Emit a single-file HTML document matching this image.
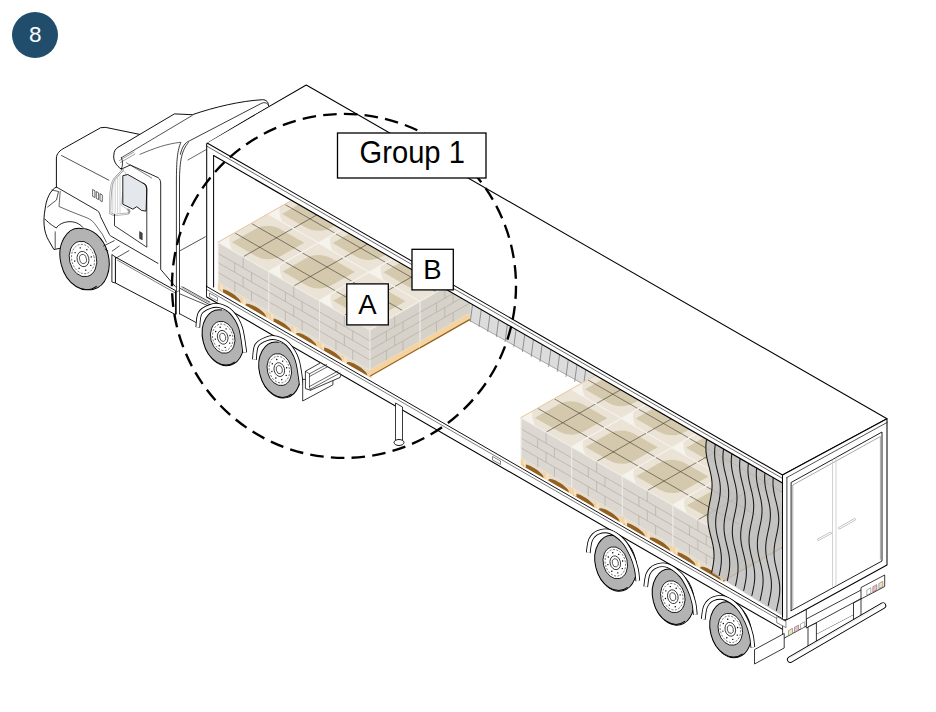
<!DOCTYPE html><html><head><meta charset="utf-8"><style>html,body{margin:0;padding:0;background:#fff;width:936px;height:712px;overflow:hidden}svg{display:block}</style></head><body><svg width="936" height="712" viewBox="0 0 936 712">
<rect width="936" height="712" fill="#fff"/>
<polygon points="468.75,300.5 598,375 583,384 468.75,320" fill="#dcdcdc" stroke="none" stroke-width="0.85" stroke-linejoin="round" />
<line x1="472.5" y1="305" x2="470.3" y2="321.5" stroke="#444" stroke-width="0.51" stroke-linecap="round" />
<line x1="481.2" y1="310" x2="479" y2="326.5" stroke="#444" stroke-width="0.51" stroke-linecap="round" />
<line x1="489.9" y1="315.01" x2="487.7" y2="331.51" stroke="#444" stroke-width="0.51" stroke-linecap="round" />
<line x1="498.6" y1="320.02" x2="496.4" y2="336.52" stroke="#444" stroke-width="0.51" stroke-linecap="round" />
<line x1="507.3" y1="325.02" x2="505.1" y2="341.52" stroke="#444" stroke-width="0.51" stroke-linecap="round" />
<line x1="516" y1="330.03" x2="513.8" y2="346.53" stroke="#444" stroke-width="0.51" stroke-linecap="round" />
<line x1="524.7" y1="335.04" x2="522.5" y2="351.54" stroke="#444" stroke-width="0.51" stroke-linecap="round" />
<line x1="533.4" y1="340.04" x2="531.2" y2="356.54" stroke="#444" stroke-width="0.51" stroke-linecap="round" />
<line x1="542.1" y1="345.05" x2="539.9" y2="361.55" stroke="#444" stroke-width="0.51" stroke-linecap="round" />
<line x1="550.8" y1="350.06" x2="548.6" y2="366.56" stroke="#444" stroke-width="0.51" stroke-linecap="round" />
<line x1="559.5" y1="355.07" x2="557.3" y2="371.57" stroke="#444" stroke-width="0.51" stroke-linecap="round" />
<line x1="568.2" y1="360.07" x2="566" y2="376.57" stroke="#444" stroke-width="0.51" stroke-linecap="round" />
<line x1="576.9" y1="365.08" x2="574.7" y2="381.58" stroke="#444" stroke-width="0.51" stroke-linecap="round" />
<line x1="585.6" y1="370.09" x2="583.4" y2="386.59" stroke="#444" stroke-width="0.51" stroke-linecap="round" />
<line x1="468.75" y1="320" x2="583" y2="384" stroke="#777" stroke-width="0.59" stroke-linecap="round" />
<g transform="matrix(1.01,0.58,1,-0.57,217.9,242.3)">
<rect x="0" y="0" width="50" height="50" fill="#ebe4d6"/>
<path d="M7,7 L30,7 C38,7 43,12 43,20 L43,43 L20,43 C12,43 7,38 7,30 Z" fill="#d5c9ad"/>
<path d="M0,0 L14,0 C10,3 5,5 0,12 Z" fill="#f6f3ec"/>
<line x1="25" y1="0.5" x2="25" y2="49.5" stroke="#4a4236" stroke-width="0.5"/>
<line x1="0.5" y1="16.7" x2="49.5" y2="16.7" stroke="#4a4236" stroke-width="0.5"/>
<line x1="0.5" y1="33.3" x2="49.5" y2="33.3" stroke="#4a4236" stroke-width="0.5"/>
<rect x="0" y="0" width="50" height="50" fill="none" stroke="#f4f2ec" stroke-width="0.9"/>
</g>
<g transform="matrix(1.01,0.58,1,-0.57,268,213.84)">
<rect x="0" y="0" width="50" height="50" fill="#ebe4d6"/>
<path d="M7,7 L30,7 C38,7 43,12 43,20 L43,43 L20,43 C12,43 7,38 7,30 Z" fill="#d5c9ad"/>
<path d="M0,0 L14,0 C10,3 5,5 0,12 Z" fill="#f6f3ec"/>
<line x1="25" y1="0.5" x2="25" y2="49.5" stroke="#4a4236" stroke-width="0.5"/>
<line x1="0.5" y1="16.7" x2="49.5" y2="16.7" stroke="#4a4236" stroke-width="0.5"/>
<line x1="0.5" y1="33.3" x2="49.5" y2="33.3" stroke="#4a4236" stroke-width="0.5"/>
<rect x="0" y="0" width="50" height="50" fill="none" stroke="#f4f2ec" stroke-width="0.9"/>
</g>
<g transform="matrix(1.01,0.58,1,-0.57,268.5,271.5)">
<rect x="0" y="0" width="50" height="50" fill="#ebe4d6"/>
<path d="M7,7 L30,7 C38,7 43,12 43,20 L43,43 L20,43 C12,43 7,38 7,30 Z" fill="#d5c9ad"/>
<path d="M0,0 L14,0 C10,3 5,5 0,12 Z" fill="#f6f3ec"/>
<line x1="25" y1="0.5" x2="25" y2="49.5" stroke="#4a4236" stroke-width="0.5"/>
<line x1="0.5" y1="16.7" x2="49.5" y2="16.7" stroke="#4a4236" stroke-width="0.5"/>
<line x1="0.5" y1="33.3" x2="49.5" y2="33.3" stroke="#4a4236" stroke-width="0.5"/>
<rect x="0" y="0" width="50" height="50" fill="none" stroke="#f4f2ec" stroke-width="0.9"/>
</g>
<g transform="matrix(1.01,0.58,1,-0.57,318.6,243.04)">
<rect x="0" y="0" width="50" height="50" fill="#ebe4d6"/>
<path d="M7,7 L30,7 C38,7 43,12 43,20 L43,43 L20,43 C12,43 7,38 7,30 Z" fill="#d5c9ad"/>
<path d="M0,0 L14,0 C10,3 5,5 0,12 Z" fill="#f6f3ec"/>
<line x1="25" y1="0.5" x2="25" y2="49.5" stroke="#4a4236" stroke-width="0.5"/>
<line x1="0.5" y1="16.7" x2="49.5" y2="16.7" stroke="#4a4236" stroke-width="0.5"/>
<line x1="0.5" y1="33.3" x2="49.5" y2="33.3" stroke="#4a4236" stroke-width="0.5"/>
<rect x="0" y="0" width="50" height="50" fill="none" stroke="#f4f2ec" stroke-width="0.9"/>
</g>
<g transform="matrix(1.01,0.58,1,-0.57,319.1,300.7)">
<rect x="0" y="0" width="50" height="50" fill="#ebe4d6"/>
<path d="M7,7 L30,7 C38,7 43,12 43,20 L43,43 L20,43 C12,43 7,38 7,30 Z" fill="#d5c9ad"/>
<path d="M0,0 L14,0 C10,3 5,5 0,12 Z" fill="#f6f3ec"/>
<line x1="25" y1="0.5" x2="25" y2="49.5" stroke="#4a4236" stroke-width="0.5"/>
<line x1="0.5" y1="16.7" x2="49.5" y2="16.7" stroke="#4a4236" stroke-width="0.5"/>
<line x1="0.5" y1="33.3" x2="49.5" y2="33.3" stroke="#4a4236" stroke-width="0.5"/>
<rect x="0" y="0" width="50" height="50" fill="none" stroke="#f4f2ec" stroke-width="0.9"/>
</g>
<g transform="matrix(1.01,0.58,1,-0.57,369.2,272.25)">
<rect x="0" y="0" width="50" height="50" fill="#ebe4d6"/>
<path d="M7,7 L30,7 C38,7 43,12 43,20 L43,43 L20,43 C12,43 7,38 7,30 Z" fill="#d5c9ad"/>
<path d="M0,0 L14,0 C10,3 5,5 0,12 Z" fill="#f6f3ec"/>
<line x1="25" y1="0.5" x2="25" y2="49.5" stroke="#4a4236" stroke-width="0.5"/>
<line x1="0.5" y1="16.7" x2="49.5" y2="16.7" stroke="#4a4236" stroke-width="0.5"/>
<line x1="0.5" y1="33.3" x2="49.5" y2="33.3" stroke="#4a4236" stroke-width="0.5"/>
<rect x="0" y="0" width="50" height="50" fill="none" stroke="#f4f2ec" stroke-width="0.9"/>
</g>
<line x1="217.9" y1="242.3" x2="318.1" y2="185.39" stroke="#d9a866" stroke-width="0.59" stroke-linecap="round" />
<g transform="matrix(1.01,0.58,0,1,217.9,242.3)">
<rect x="0" y="0" width="50" height="40.0" fill="#dcd8d1"/>
<line x1="25" y1="0" x2="25" y2="11" stroke="#b2ada4" stroke-width="0.6"/>
<line x1="0" y1="11" x2="50" y2="11" stroke="#b2ada4" stroke-width="0.6"/>
<line x1="16.7" y1="11" x2="16.7" y2="20.3" stroke="#b2ada4" stroke-width="0.6"/>
<line x1="33.3" y1="11" x2="33.3" y2="20.3" stroke="#b2ada4" stroke-width="0.6"/>
<line x1="0" y1="20.3" x2="50" y2="20.3" stroke="#b2ada4" stroke-width="0.6"/>
<line x1="25" y1="20.3" x2="25" y2="30.1" stroke="#b2ada4" stroke-width="0.6"/>
<line x1="0" y1="30.1" x2="50" y2="30.1" stroke="#b2ada4" stroke-width="0.6"/>
<line x1="16.7" y1="30.1" x2="16.7" y2="40" stroke="#b2ada4" stroke-width="0.6"/>
<line x1="33.3" y1="30.1" x2="33.3" y2="40" stroke="#b2ada4" stroke-width="0.6"/>
<line x1="0.4" y1="0" x2="0.4" y2="40.0" stroke="#eeece8" stroke-width="0.8"/>
<line x1="0" y1="0.3" x2="50" y2="0.3" stroke="#f2f0ea" stroke-width="0.6"/>
</g>
<g transform="matrix(1.01,0.58,0,1,217.9,242.3)">
<rect x="0" y="40.0" width="50" height="7.2" fill="#e4dccd"/>
<path d="M1.5,47.2 C3.5,41.3 21.5,41.3 23.5,47.2 Z" fill="#93601f"/>
<path d="M26.5,47.2 C28.5,41.3 46.5,41.3 48.5,47.2 Z" fill="#93601f"/>
<rect x="0" y="41.0" width="2.5" height="6.2" fill="#f5d3a0"/>
<rect x="2.5" y="41.0" width="2.5" height="6.2" fill="#f9e2bd"/>
<rect x="22.5" y="41.0" width="2.5" height="6.2" fill="#f5d3a0"/>
<rect x="25.0" y="41.0" width="2.5" height="6.2" fill="#f9e2bd"/>
<rect x="47.5" y="41.0" width="2.5" height="6.2" fill="#f5d3a0"/>
<rect x="50.0" y="41.0" width="2.5" height="6.2" fill="#f9e2bd"/>
</g>
<g transform="matrix(1.01,0.58,0,1,268.5,271.5)">
<rect x="0" y="0" width="50" height="40.0" fill="#dcd8d1"/>
<line x1="25" y1="0" x2="25" y2="11" stroke="#b2ada4" stroke-width="0.6"/>
<line x1="0" y1="11" x2="50" y2="11" stroke="#b2ada4" stroke-width="0.6"/>
<line x1="16.7" y1="11" x2="16.7" y2="20.3" stroke="#b2ada4" stroke-width="0.6"/>
<line x1="33.3" y1="11" x2="33.3" y2="20.3" stroke="#b2ada4" stroke-width="0.6"/>
<line x1="0" y1="20.3" x2="50" y2="20.3" stroke="#b2ada4" stroke-width="0.6"/>
<line x1="25" y1="20.3" x2="25" y2="30.1" stroke="#b2ada4" stroke-width="0.6"/>
<line x1="0" y1="30.1" x2="50" y2="30.1" stroke="#b2ada4" stroke-width="0.6"/>
<line x1="16.7" y1="30.1" x2="16.7" y2="40" stroke="#b2ada4" stroke-width="0.6"/>
<line x1="33.3" y1="30.1" x2="33.3" y2="40" stroke="#b2ada4" stroke-width="0.6"/>
<line x1="0.4" y1="0" x2="0.4" y2="40.0" stroke="#eeece8" stroke-width="0.8"/>
<line x1="0" y1="0.3" x2="50" y2="0.3" stroke="#f2f0ea" stroke-width="0.6"/>
</g>
<g transform="matrix(1.01,0.58,0,1,268.5,271.5)">
<rect x="0" y="40.0" width="50" height="7.2" fill="#e4dccd"/>
<path d="M1.5,47.2 C3.5,41.3 21.5,41.3 23.5,47.2 Z" fill="#93601f"/>
<path d="M26.5,47.2 C28.5,41.3 46.5,41.3 48.5,47.2 Z" fill="#93601f"/>
<rect x="0" y="41.0" width="2.5" height="6.2" fill="#f5d3a0"/>
<rect x="2.5" y="41.0" width="2.5" height="6.2" fill="#f9e2bd"/>
<rect x="22.5" y="41.0" width="2.5" height="6.2" fill="#f5d3a0"/>
<rect x="25.0" y="41.0" width="2.5" height="6.2" fill="#f9e2bd"/>
<rect x="47.5" y="41.0" width="2.5" height="6.2" fill="#f5d3a0"/>
<rect x="50.0" y="41.0" width="2.5" height="6.2" fill="#f9e2bd"/>
</g>
<g transform="matrix(1.01,0.58,0,1,319.1,300.7)">
<rect x="0" y="0" width="50" height="40.0" fill="#dcd8d1"/>
<line x1="25" y1="0" x2="25" y2="11" stroke="#b2ada4" stroke-width="0.6"/>
<line x1="0" y1="11" x2="50" y2="11" stroke="#b2ada4" stroke-width="0.6"/>
<line x1="16.7" y1="11" x2="16.7" y2="20.3" stroke="#b2ada4" stroke-width="0.6"/>
<line x1="33.3" y1="11" x2="33.3" y2="20.3" stroke="#b2ada4" stroke-width="0.6"/>
<line x1="0" y1="20.3" x2="50" y2="20.3" stroke="#b2ada4" stroke-width="0.6"/>
<line x1="25" y1="20.3" x2="25" y2="30.1" stroke="#b2ada4" stroke-width="0.6"/>
<line x1="0" y1="30.1" x2="50" y2="30.1" stroke="#b2ada4" stroke-width="0.6"/>
<line x1="16.7" y1="30.1" x2="16.7" y2="40" stroke="#b2ada4" stroke-width="0.6"/>
<line x1="33.3" y1="30.1" x2="33.3" y2="40" stroke="#b2ada4" stroke-width="0.6"/>
<line x1="0.4" y1="0" x2="0.4" y2="40.0" stroke="#eeece8" stroke-width="0.8"/>
<line x1="0" y1="0.3" x2="50" y2="0.3" stroke="#f2f0ea" stroke-width="0.6"/>
</g>
<g transform="matrix(1.01,0.58,0,1,319.1,300.7)">
<rect x="0" y="40.0" width="50" height="7.2" fill="#e4dccd"/>
<path d="M1.5,47.2 C3.5,41.3 21.5,41.3 23.5,47.2 Z" fill="#93601f"/>
<path d="M26.5,47.2 C28.5,41.3 46.5,41.3 48.5,47.2 Z" fill="#93601f"/>
<rect x="0" y="41.0" width="2.5" height="6.2" fill="#f5d3a0"/>
<rect x="2.5" y="41.0" width="2.5" height="6.2" fill="#f9e2bd"/>
<rect x="22.5" y="41.0" width="2.5" height="6.2" fill="#f5d3a0"/>
<rect x="25.0" y="41.0" width="2.5" height="6.2" fill="#f9e2bd"/>
<rect x="47.5" y="41.0" width="2.5" height="6.2" fill="#f5d3a0"/>
<rect x="50.0" y="41.0" width="2.5" height="6.2" fill="#f9e2bd"/>
</g>
<g transform="matrix(1,-0.57,0,1,369.7,329.9)">
<rect x="0" y="0" width="50" height="40.0" fill="#d6d2ca"/>
<line x1="25" y1="0" x2="25" y2="11" stroke="#b2ada4" stroke-width="0.6"/>
<line x1="0" y1="11" x2="50" y2="11" stroke="#b2ada4" stroke-width="0.6"/>
<line x1="16.7" y1="11" x2="16.7" y2="20.3" stroke="#b2ada4" stroke-width="0.6"/>
<line x1="33.3" y1="11" x2="33.3" y2="20.3" stroke="#b2ada4" stroke-width="0.6"/>
<line x1="0" y1="20.3" x2="50" y2="20.3" stroke="#b2ada4" stroke-width="0.6"/>
<line x1="25" y1="20.3" x2="25" y2="30.1" stroke="#b2ada4" stroke-width="0.6"/>
<line x1="0" y1="30.1" x2="50" y2="30.1" stroke="#b2ada4" stroke-width="0.6"/>
<line x1="16.7" y1="30.1" x2="16.7" y2="40" stroke="#b2ada4" stroke-width="0.6"/>
<line x1="33.3" y1="30.1" x2="33.3" y2="40" stroke="#b2ada4" stroke-width="0.6"/>
<line x1="0.4" y1="0" x2="0.4" y2="40.0" stroke="#eeece8" stroke-width="0.8"/>
<line x1="0" y1="0.3" x2="50" y2="0.3" stroke="#f2f0ea" stroke-width="0.6"/>
</g>
<g transform="matrix(1,-0.57,0,1,369.7,329.9)">
<rect x="0" y="40.0" width="50" height="7.2" fill="#f5d3a0"/>
<rect x="0" y="45.800000000000004" width="50" height="1.4" fill="#93601f"/>
</g>
<g transform="matrix(1,-0.57,0,1,419.8,301.45)">
<rect x="0" y="0" width="50" height="40.0" fill="#d6d2ca"/>
<line x1="25" y1="0" x2="25" y2="11" stroke="#b2ada4" stroke-width="0.6"/>
<line x1="0" y1="11" x2="50" y2="11" stroke="#b2ada4" stroke-width="0.6"/>
<line x1="16.7" y1="11" x2="16.7" y2="20.3" stroke="#b2ada4" stroke-width="0.6"/>
<line x1="33.3" y1="11" x2="33.3" y2="20.3" stroke="#b2ada4" stroke-width="0.6"/>
<line x1="0" y1="20.3" x2="50" y2="20.3" stroke="#b2ada4" stroke-width="0.6"/>
<line x1="25" y1="20.3" x2="25" y2="30.1" stroke="#b2ada4" stroke-width="0.6"/>
<line x1="0" y1="30.1" x2="50" y2="30.1" stroke="#b2ada4" stroke-width="0.6"/>
<line x1="16.7" y1="30.1" x2="16.7" y2="40" stroke="#b2ada4" stroke-width="0.6"/>
<line x1="33.3" y1="30.1" x2="33.3" y2="40" stroke="#b2ada4" stroke-width="0.6"/>
<line x1="0.4" y1="0" x2="0.4" y2="40.0" stroke="#eeece8" stroke-width="0.8"/>
<line x1="0" y1="0.3" x2="50" y2="0.3" stroke="#f2f0ea" stroke-width="0.6"/>
</g>
<g transform="matrix(1,-0.57,0,1,419.8,301.45)">
<rect x="0" y="40.0" width="50" height="7.2" fill="#f5d3a0"/>
<rect x="0" y="45.800000000000004" width="50" height="1.4" fill="#93601f"/>
</g>
<g transform="matrix(1.01,0.58,1,-0.57,520.8,417.7)">
<rect x="0" y="0" width="50" height="50" fill="#ebe4d6"/>
<path d="M7,7 L30,7 C38,7 43,12 43,20 L43,43 L20,43 C12,43 7,38 7,30 Z" fill="#d5c9ad"/>
<path d="M0,0 L14,0 C10,3 5,5 0,12 Z" fill="#f6f3ec"/>
<line x1="25" y1="0.5" x2="25" y2="49.5" stroke="#4a4236" stroke-width="0.5"/>
<line x1="0.5" y1="16.7" x2="49.5" y2="16.7" stroke="#4a4236" stroke-width="0.5"/>
<line x1="0.5" y1="33.3" x2="49.5" y2="33.3" stroke="#4a4236" stroke-width="0.5"/>
<rect x="0" y="0" width="50" height="50" fill="none" stroke="#f4f2ec" stroke-width="0.9"/>
</g>
<g transform="matrix(1.01,0.58,1,-0.57,570.9,389.24)">
<rect x="0" y="0" width="50" height="50" fill="#ebe4d6"/>
<path d="M7,7 L30,7 C38,7 43,12 43,20 L43,43 L20,43 C12,43 7,38 7,30 Z" fill="#d5c9ad"/>
<path d="M0,0 L14,0 C10,3 5,5 0,12 Z" fill="#f6f3ec"/>
<line x1="25" y1="0.5" x2="25" y2="49.5" stroke="#4a4236" stroke-width="0.5"/>
<line x1="0.5" y1="16.7" x2="49.5" y2="16.7" stroke="#4a4236" stroke-width="0.5"/>
<line x1="0.5" y1="33.3" x2="49.5" y2="33.3" stroke="#4a4236" stroke-width="0.5"/>
<rect x="0" y="0" width="50" height="50" fill="none" stroke="#f4f2ec" stroke-width="0.9"/>
</g>
<g transform="matrix(1.01,0.58,1,-0.57,571.4,446.9)">
<rect x="0" y="0" width="50" height="50" fill="#ebe4d6"/>
<path d="M7,7 L30,7 C38,7 43,12 43,20 L43,43 L20,43 C12,43 7,38 7,30 Z" fill="#d5c9ad"/>
<path d="M0,0 L14,0 C10,3 5,5 0,12 Z" fill="#f6f3ec"/>
<line x1="25" y1="0.5" x2="25" y2="49.5" stroke="#4a4236" stroke-width="0.5"/>
<line x1="0.5" y1="16.7" x2="49.5" y2="16.7" stroke="#4a4236" stroke-width="0.5"/>
<line x1="0.5" y1="33.3" x2="49.5" y2="33.3" stroke="#4a4236" stroke-width="0.5"/>
<rect x="0" y="0" width="50" height="50" fill="none" stroke="#f4f2ec" stroke-width="0.9"/>
</g>
<g transform="matrix(1.01,0.58,1,-0.57,621.5,418.44)">
<rect x="0" y="0" width="50" height="50" fill="#ebe4d6"/>
<path d="M7,7 L30,7 C38,7 43,12 43,20 L43,43 L20,43 C12,43 7,38 7,30 Z" fill="#d5c9ad"/>
<path d="M0,0 L14,0 C10,3 5,5 0,12 Z" fill="#f6f3ec"/>
<line x1="25" y1="0.5" x2="25" y2="49.5" stroke="#4a4236" stroke-width="0.5"/>
<line x1="0.5" y1="16.7" x2="49.5" y2="16.7" stroke="#4a4236" stroke-width="0.5"/>
<line x1="0.5" y1="33.3" x2="49.5" y2="33.3" stroke="#4a4236" stroke-width="0.5"/>
<rect x="0" y="0" width="50" height="50" fill="none" stroke="#f4f2ec" stroke-width="0.9"/>
</g>
<g transform="matrix(1.01,0.58,1,-0.57,622,476.1)">
<rect x="0" y="0" width="50" height="50" fill="#ebe4d6"/>
<path d="M7,7 L30,7 C38,7 43,12 43,20 L43,43 L20,43 C12,43 7,38 7,30 Z" fill="#d5c9ad"/>
<path d="M0,0 L14,0 C10,3 5,5 0,12 Z" fill="#f6f3ec"/>
<line x1="25" y1="0.5" x2="25" y2="49.5" stroke="#4a4236" stroke-width="0.5"/>
<line x1="0.5" y1="16.7" x2="49.5" y2="16.7" stroke="#4a4236" stroke-width="0.5"/>
<line x1="0.5" y1="33.3" x2="49.5" y2="33.3" stroke="#4a4236" stroke-width="0.5"/>
<rect x="0" y="0" width="50" height="50" fill="none" stroke="#f4f2ec" stroke-width="0.9"/>
</g>
<g transform="matrix(1.01,0.58,1,-0.57,672.1,447.65)">
<rect x="0" y="0" width="50" height="50" fill="#ebe4d6"/>
<path d="M7,7 L30,7 C38,7 43,12 43,20 L43,43 L20,43 C12,43 7,38 7,30 Z" fill="#d5c9ad"/>
<path d="M0,0 L14,0 C10,3 5,5 0,12 Z" fill="#f6f3ec"/>
<line x1="25" y1="0.5" x2="25" y2="49.5" stroke="#4a4236" stroke-width="0.5"/>
<line x1="0.5" y1="16.7" x2="49.5" y2="16.7" stroke="#4a4236" stroke-width="0.5"/>
<line x1="0.5" y1="33.3" x2="49.5" y2="33.3" stroke="#4a4236" stroke-width="0.5"/>
<rect x="0" y="0" width="50" height="50" fill="none" stroke="#f4f2ec" stroke-width="0.9"/>
</g>
<g transform="matrix(1.01,0.58,1,-0.57,672.6,505.3)">
<rect x="0" y="0" width="50" height="50" fill="#ebe4d6"/>
<path d="M7,7 L30,7 C38,7 43,12 43,20 L43,43 L20,43 C12,43 7,38 7,30 Z" fill="#d5c9ad"/>
<path d="M0,0 L14,0 C10,3 5,5 0,12 Z" fill="#f6f3ec"/>
<line x1="25" y1="0.5" x2="25" y2="49.5" stroke="#4a4236" stroke-width="0.5"/>
<line x1="0.5" y1="16.7" x2="49.5" y2="16.7" stroke="#4a4236" stroke-width="0.5"/>
<line x1="0.5" y1="33.3" x2="49.5" y2="33.3" stroke="#4a4236" stroke-width="0.5"/>
<rect x="0" y="0" width="50" height="50" fill="none" stroke="#f4f2ec" stroke-width="0.9"/>
</g>
<g transform="matrix(1.01,0.58,1,-0.57,722.7,476.85)">
<rect x="0" y="0" width="50" height="50" fill="#ebe4d6"/>
<path d="M7,7 L30,7 C38,7 43,12 43,20 L43,43 L20,43 C12,43 7,38 7,30 Z" fill="#d5c9ad"/>
<path d="M0,0 L14,0 C10,3 5,5 0,12 Z" fill="#f6f3ec"/>
<line x1="25" y1="0.5" x2="25" y2="49.5" stroke="#4a4236" stroke-width="0.5"/>
<line x1="0.5" y1="16.7" x2="49.5" y2="16.7" stroke="#4a4236" stroke-width="0.5"/>
<line x1="0.5" y1="33.3" x2="49.5" y2="33.3" stroke="#4a4236" stroke-width="0.5"/>
<rect x="0" y="0" width="50" height="50" fill="none" stroke="#f4f2ec" stroke-width="0.9"/>
</g>
<line x1="520.8" y1="417.7" x2="621" y2="360.79" stroke="#d9a866" stroke-width="0.59" stroke-linecap="round" />
<g transform="matrix(1.01,0.58,0,1,520.8,417.7)">
<rect x="0" y="0" width="50" height="40.0" fill="#dcd8d1"/>
<line x1="25" y1="0" x2="25" y2="11" stroke="#b2ada4" stroke-width="0.6"/>
<line x1="0" y1="11" x2="50" y2="11" stroke="#b2ada4" stroke-width="0.6"/>
<line x1="16.7" y1="11" x2="16.7" y2="20.3" stroke="#b2ada4" stroke-width="0.6"/>
<line x1="33.3" y1="11" x2="33.3" y2="20.3" stroke="#b2ada4" stroke-width="0.6"/>
<line x1="0" y1="20.3" x2="50" y2="20.3" stroke="#b2ada4" stroke-width="0.6"/>
<line x1="25" y1="20.3" x2="25" y2="30.1" stroke="#b2ada4" stroke-width="0.6"/>
<line x1="0" y1="30.1" x2="50" y2="30.1" stroke="#b2ada4" stroke-width="0.6"/>
<line x1="16.7" y1="30.1" x2="16.7" y2="40" stroke="#b2ada4" stroke-width="0.6"/>
<line x1="33.3" y1="30.1" x2="33.3" y2="40" stroke="#b2ada4" stroke-width="0.6"/>
<line x1="0.4" y1="0" x2="0.4" y2="40.0" stroke="#eeece8" stroke-width="0.8"/>
<line x1="0" y1="0.3" x2="50" y2="0.3" stroke="#f2f0ea" stroke-width="0.6"/>
</g>
<g transform="matrix(1.01,0.58,0,1,520.8,417.7)">
<rect x="0" y="40.0" width="50" height="7.2" fill="#e4dccd"/>
<path d="M1.5,47.2 C3.5,41.3 21.5,41.3 23.5,47.2 Z" fill="#93601f"/>
<path d="M26.5,47.2 C28.5,41.3 46.5,41.3 48.5,47.2 Z" fill="#93601f"/>
<rect x="0" y="41.0" width="2.5" height="6.2" fill="#f5d3a0"/>
<rect x="2.5" y="41.0" width="2.5" height="6.2" fill="#f9e2bd"/>
<rect x="22.5" y="41.0" width="2.5" height="6.2" fill="#f5d3a0"/>
<rect x="25.0" y="41.0" width="2.5" height="6.2" fill="#f9e2bd"/>
<rect x="47.5" y="41.0" width="2.5" height="6.2" fill="#f5d3a0"/>
<rect x="50.0" y="41.0" width="2.5" height="6.2" fill="#f9e2bd"/>
</g>
<g transform="matrix(1.01,0.58,0,1,571.4,446.9)">
<rect x="0" y="0" width="50" height="40.0" fill="#dcd8d1"/>
<line x1="25" y1="0" x2="25" y2="11" stroke="#b2ada4" stroke-width="0.6"/>
<line x1="0" y1="11" x2="50" y2="11" stroke="#b2ada4" stroke-width="0.6"/>
<line x1="16.7" y1="11" x2="16.7" y2="20.3" stroke="#b2ada4" stroke-width="0.6"/>
<line x1="33.3" y1="11" x2="33.3" y2="20.3" stroke="#b2ada4" stroke-width="0.6"/>
<line x1="0" y1="20.3" x2="50" y2="20.3" stroke="#b2ada4" stroke-width="0.6"/>
<line x1="25" y1="20.3" x2="25" y2="30.1" stroke="#b2ada4" stroke-width="0.6"/>
<line x1="0" y1="30.1" x2="50" y2="30.1" stroke="#b2ada4" stroke-width="0.6"/>
<line x1="16.7" y1="30.1" x2="16.7" y2="40" stroke="#b2ada4" stroke-width="0.6"/>
<line x1="33.3" y1="30.1" x2="33.3" y2="40" stroke="#b2ada4" stroke-width="0.6"/>
<line x1="0.4" y1="0" x2="0.4" y2="40.0" stroke="#eeece8" stroke-width="0.8"/>
<line x1="0" y1="0.3" x2="50" y2="0.3" stroke="#f2f0ea" stroke-width="0.6"/>
</g>
<g transform="matrix(1.01,0.58,0,1,571.4,446.9)">
<rect x="0" y="40.0" width="50" height="7.2" fill="#e4dccd"/>
<path d="M1.5,47.2 C3.5,41.3 21.5,41.3 23.5,47.2 Z" fill="#93601f"/>
<path d="M26.5,47.2 C28.5,41.3 46.5,41.3 48.5,47.2 Z" fill="#93601f"/>
<rect x="0" y="41.0" width="2.5" height="6.2" fill="#f5d3a0"/>
<rect x="2.5" y="41.0" width="2.5" height="6.2" fill="#f9e2bd"/>
<rect x="22.5" y="41.0" width="2.5" height="6.2" fill="#f5d3a0"/>
<rect x="25.0" y="41.0" width="2.5" height="6.2" fill="#f9e2bd"/>
<rect x="47.5" y="41.0" width="2.5" height="6.2" fill="#f5d3a0"/>
<rect x="50.0" y="41.0" width="2.5" height="6.2" fill="#f9e2bd"/>
</g>
<g transform="matrix(1.01,0.58,0,1,622,476.1)">
<rect x="0" y="0" width="50" height="40.0" fill="#dcd8d1"/>
<line x1="25" y1="0" x2="25" y2="11" stroke="#b2ada4" stroke-width="0.6"/>
<line x1="0" y1="11" x2="50" y2="11" stroke="#b2ada4" stroke-width="0.6"/>
<line x1="16.7" y1="11" x2="16.7" y2="20.3" stroke="#b2ada4" stroke-width="0.6"/>
<line x1="33.3" y1="11" x2="33.3" y2="20.3" stroke="#b2ada4" stroke-width="0.6"/>
<line x1="0" y1="20.3" x2="50" y2="20.3" stroke="#b2ada4" stroke-width="0.6"/>
<line x1="25" y1="20.3" x2="25" y2="30.1" stroke="#b2ada4" stroke-width="0.6"/>
<line x1="0" y1="30.1" x2="50" y2="30.1" stroke="#b2ada4" stroke-width="0.6"/>
<line x1="16.7" y1="30.1" x2="16.7" y2="40" stroke="#b2ada4" stroke-width="0.6"/>
<line x1="33.3" y1="30.1" x2="33.3" y2="40" stroke="#b2ada4" stroke-width="0.6"/>
<line x1="0.4" y1="0" x2="0.4" y2="40.0" stroke="#eeece8" stroke-width="0.8"/>
<line x1="0" y1="0.3" x2="50" y2="0.3" stroke="#f2f0ea" stroke-width="0.6"/>
</g>
<g transform="matrix(1.01,0.58,0,1,622,476.1)">
<rect x="0" y="40.0" width="50" height="7.2" fill="#e4dccd"/>
<path d="M1.5,47.2 C3.5,41.3 21.5,41.3 23.5,47.2 Z" fill="#93601f"/>
<path d="M26.5,47.2 C28.5,41.3 46.5,41.3 48.5,47.2 Z" fill="#93601f"/>
<rect x="0" y="41.0" width="2.5" height="6.2" fill="#f5d3a0"/>
<rect x="2.5" y="41.0" width="2.5" height="6.2" fill="#f9e2bd"/>
<rect x="22.5" y="41.0" width="2.5" height="6.2" fill="#f5d3a0"/>
<rect x="25.0" y="41.0" width="2.5" height="6.2" fill="#f9e2bd"/>
<rect x="47.5" y="41.0" width="2.5" height="6.2" fill="#f5d3a0"/>
<rect x="50.0" y="41.0" width="2.5" height="6.2" fill="#f9e2bd"/>
</g>
<g transform="matrix(1.01,0.58,0,1,672.6,505.3)">
<rect x="0" y="0" width="50" height="40.0" fill="#dcd8d1"/>
<line x1="25" y1="0" x2="25" y2="11" stroke="#b2ada4" stroke-width="0.6"/>
<line x1="0" y1="11" x2="50" y2="11" stroke="#b2ada4" stroke-width="0.6"/>
<line x1="16.7" y1="11" x2="16.7" y2="20.3" stroke="#b2ada4" stroke-width="0.6"/>
<line x1="33.3" y1="11" x2="33.3" y2="20.3" stroke="#b2ada4" stroke-width="0.6"/>
<line x1="0" y1="20.3" x2="50" y2="20.3" stroke="#b2ada4" stroke-width="0.6"/>
<line x1="25" y1="20.3" x2="25" y2="30.1" stroke="#b2ada4" stroke-width="0.6"/>
<line x1="0" y1="30.1" x2="50" y2="30.1" stroke="#b2ada4" stroke-width="0.6"/>
<line x1="16.7" y1="30.1" x2="16.7" y2="40" stroke="#b2ada4" stroke-width="0.6"/>
<line x1="33.3" y1="30.1" x2="33.3" y2="40" stroke="#b2ada4" stroke-width="0.6"/>
<line x1="0.4" y1="0" x2="0.4" y2="40.0" stroke="#eeece8" stroke-width="0.8"/>
<line x1="0" y1="0.3" x2="50" y2="0.3" stroke="#f2f0ea" stroke-width="0.6"/>
</g>
<g transform="matrix(1.01,0.58,0,1,672.6,505.3)">
<rect x="0" y="40.0" width="50" height="7.2" fill="#e4dccd"/>
<path d="M1.5,47.2 C3.5,41.3 21.5,41.3 23.5,47.2 Z" fill="#93601f"/>
<path d="M26.5,47.2 C28.5,41.3 46.5,41.3 48.5,47.2 Z" fill="#93601f"/>
<rect x="0" y="41.0" width="2.5" height="6.2" fill="#f5d3a0"/>
<rect x="2.5" y="41.0" width="2.5" height="6.2" fill="#f9e2bd"/>
<rect x="22.5" y="41.0" width="2.5" height="6.2" fill="#f5d3a0"/>
<rect x="25.0" y="41.0" width="2.5" height="6.2" fill="#f9e2bd"/>
<rect x="47.5" y="41.0" width="2.5" height="6.2" fill="#f5d3a0"/>
<rect x="50.0" y="41.0" width="2.5" height="6.2" fill="#f9e2bd"/>
</g>
<g transform="matrix(1,-0.57,0,1,723.2,534.51)">
<rect x="0" y="0" width="50" height="40.0" fill="#d6d2ca"/>
<line x1="25" y1="0" x2="25" y2="11" stroke="#b2ada4" stroke-width="0.6"/>
<line x1="0" y1="11" x2="50" y2="11" stroke="#b2ada4" stroke-width="0.6"/>
<line x1="16.7" y1="11" x2="16.7" y2="20.3" stroke="#b2ada4" stroke-width="0.6"/>
<line x1="33.3" y1="11" x2="33.3" y2="20.3" stroke="#b2ada4" stroke-width="0.6"/>
<line x1="0" y1="20.3" x2="50" y2="20.3" stroke="#b2ada4" stroke-width="0.6"/>
<line x1="25" y1="20.3" x2="25" y2="30.1" stroke="#b2ada4" stroke-width="0.6"/>
<line x1="0" y1="30.1" x2="50" y2="30.1" stroke="#b2ada4" stroke-width="0.6"/>
<line x1="16.7" y1="30.1" x2="16.7" y2="40" stroke="#b2ada4" stroke-width="0.6"/>
<line x1="33.3" y1="30.1" x2="33.3" y2="40" stroke="#b2ada4" stroke-width="0.6"/>
<line x1="0.4" y1="0" x2="0.4" y2="40.0" stroke="#eeece8" stroke-width="0.8"/>
<line x1="0" y1="0.3" x2="50" y2="0.3" stroke="#f2f0ea" stroke-width="0.6"/>
</g>
<g transform="matrix(1,-0.57,0,1,723.2,534.51)">
<rect x="0" y="40.0" width="50" height="7.2" fill="#f5d3a0"/>
<rect x="0" y="45.800000000000004" width="50" height="1.4" fill="#93601f"/>
</g>
<g transform="matrix(1,-0.57,0,1,773.3,506.05)">
<rect x="0" y="0" width="50" height="40.0" fill="#d6d2ca"/>
<line x1="25" y1="0" x2="25" y2="11" stroke="#b2ada4" stroke-width="0.6"/>
<line x1="0" y1="11" x2="50" y2="11" stroke="#b2ada4" stroke-width="0.6"/>
<line x1="16.7" y1="11" x2="16.7" y2="20.3" stroke="#b2ada4" stroke-width="0.6"/>
<line x1="33.3" y1="11" x2="33.3" y2="20.3" stroke="#b2ada4" stroke-width="0.6"/>
<line x1="0" y1="20.3" x2="50" y2="20.3" stroke="#b2ada4" stroke-width="0.6"/>
<line x1="25" y1="20.3" x2="25" y2="30.1" stroke="#b2ada4" stroke-width="0.6"/>
<line x1="0" y1="30.1" x2="50" y2="30.1" stroke="#b2ada4" stroke-width="0.6"/>
<line x1="16.7" y1="30.1" x2="16.7" y2="40" stroke="#b2ada4" stroke-width="0.6"/>
<line x1="33.3" y1="30.1" x2="33.3" y2="40" stroke="#b2ada4" stroke-width="0.6"/>
<line x1="0.4" y1="0" x2="0.4" y2="40.0" stroke="#eeece8" stroke-width="0.8"/>
<line x1="0" y1="0.3" x2="50" y2="0.3" stroke="#f2f0ea" stroke-width="0.6"/>
</g>
<g transform="matrix(1,-0.57,0,1,773.3,506.05)">
<rect x="0" y="40.0" width="50" height="7.2" fill="#f5d3a0"/>
<rect x="0" y="45.800000000000004" width="50" height="1.4" fill="#93601f"/>
</g>
<polygon points="706.62,438.8 706.25,441.47 705.99,444.15 705.87,446.82 705.9,449.5 706.07,452.17 706.39,454.84 706.84,457.52 707.39,460.19 708.02,462.87 708.71,465.54 709.4,468.21 710.08,470.89 710.69,473.56 711.22,476.24 711.64,478.91 711.92,481.58 712.06,484.26 712.04,486.93 711.89,489.61 711.6,492.28 711.2,494.95 710.72,497.63 710.19,500.3 709.64,502.98 709.11,505.65 708.64,508.32 708.25,511 707.97,513.67 707.82,516.35 707.82,519.02 707.97,521.69 708.26,524.37 708.68,527.04 709.22,529.72 709.84,532.39 710.52,535.06 711.22,537.74 711.9,540.41 712.53,543.09 713.07,545.76 713.51,548.43 713.82,551.11 713.98,553.78 714,556.46 713.86,559.13 713.6,561.8 713.22,564.48 712.75,567.15 712.22,569.83 711.68,572.5 781.8,615.6 781.6,482.4" fill="rgba(192,192,192,0.88)" stroke="none" stroke-width="0.85" stroke-linejoin="round" />
<polyline points="706.62,438.8 706.25,441.47 705.99,444.15 705.87,446.82 705.9,449.5 706.07,452.17 706.39,454.84 706.84,457.52 707.39,460.19 708.02,462.87 708.71,465.54 709.4,468.21 710.08,470.89 710.69,473.56 711.22,476.24 711.64,478.91 711.92,481.58 712.06,484.26 712.04,486.93 711.89,489.61 711.6,492.28 711.2,494.95 710.72,497.63 710.19,500.3 709.64,502.98 709.11,505.65 708.64,508.32 708.25,511 707.97,513.67 707.82,516.35 707.82,519.02 707.97,521.69 708.26,524.37 708.68,527.04 709.22,529.72 709.84,532.39 710.52,535.06 711.22,537.74 711.9,540.41 712.53,543.09 713.07,545.76 713.51,548.43 713.82,551.11 713.98,553.78 714,556.46 713.86,559.13 713.6,561.8 713.22,564.48 712.75,567.15 712.22,569.83 711.68,572.5" fill="none" stroke="#151515" stroke-width="1.06" stroke-linejoin="round" stroke-linecap="round" />
<polyline points="715.37,443.89 714.99,446.52 714.73,449.16 714.6,451.79 714.62,454.42 714.78,457.06 715.07,459.69 715.49,462.33 716.01,464.96 716.61,467.59 717.25,470.23 717.9,472.86 718.53,475.49 719.11,478.13 719.6,480.76 719.97,483.39 720.22,486.03 720.33,488.66 720.29,491.3 720.12,493.93 719.81,496.56 719.4,499.2 718.9,501.83 718.34,504.46 717.77,507.1 717.21,509.73 716.7,512.36 716.26,515 715.93,517.63 715.72,520.26 715.65,522.9 715.73,525.53 715.95,528.17 716.3,530.8 716.76,533.43 717.32,536.07 717.94,538.7 718.59,541.33 719.24,543.97 719.85,546.6 720.39,549.23 720.83,551.87 721.16,554.5 721.35,557.13 721.4,559.77 721.3,562.4 721.06,565.04 720.71,567.67 720.26,570.3 719.73,572.94 719.17,575.57" fill="none" stroke="#1a1a1a" stroke-width="1.06" stroke-linejoin="round" stroke-linecap="round" />
<polyline points="723.62,448.69 723.27,451.33 723.03,453.97 722.94,456.6 722.98,459.24 723.17,461.88 723.5,464.52 723.94,467.15 724.48,469.79 725.09,472.43 725.74,475.06 726.39,477.7 727.01,480.34 727.57,482.98 728.03,485.61 728.38,488.25 728.6,490.89 728.67,493.52 728.6,496.16 728.39,498.8 728.06,501.44 727.62,504.07 727.11,506.71 726.55,509.35 725.97,511.98 725.42,514.62 724.92,517.26 724.51,519.89 724.21,522.53 724.03,525.17 724,527.81 724.11,530.44 724.36,533.08 724.75,535.72 725.24,538.35 725.82,540.99 726.45,543.63 727.1,546.27 727.74,548.9 728.34,551.54 728.86,554.18 729.27,556.81 729.56,559.45 729.71,562.09 729.72,564.73 729.59,567.36 729.32,570 728.93,572.64 728.46,575.27 727.92,577.91 727.35,580.55" fill="none" stroke="#1a1a1a" stroke-width="1.06" stroke-linejoin="round" stroke-linecap="round" />
<polyline points="731.88,453.5 731.55,456.14 731.34,458.78 731.27,461.42 731.35,464.06 731.57,466.7 731.92,469.34 732.39,471.98 732.95,474.62 733.58,477.26 734.23,479.9 734.88,482.54 735.49,485.18 736.03,487.82 736.47,490.46 736.79,493.11 736.97,495.75 737.01,498.39 736.91,501.03 736.67,503.67 736.31,506.31 735.85,508.95 735.32,511.59 734.75,514.23 734.18,516.87 733.63,519.51 733.15,522.15 732.76,524.79 732.49,527.43 732.35,530.07 732.35,532.71 732.5,535.35 732.79,537.99 733.2,540.64 733.72,543.28 734.31,545.92 734.95,548.56 735.61,551.2 736.24,553.84 736.82,556.48 737.32,559.12 737.7,561.76 737.96,564.4 738.07,567.04 738.04,569.68 737.87,572.32 737.56,574.96 737.15,577.6 736.65,580.24 736.1,582.88 735.53,585.53" fill="none" stroke="#1a1a1a" stroke-width="1.06" stroke-linejoin="round" stroke-linecap="round" />
<polyline points="740.14,458.3 739.84,460.94 739.66,463.59 739.62,466.23 739.73,468.88 739.98,471.52 740.36,474.16 740.85,476.81 741.43,479.45 742.06,482.1 742.72,484.74 743.36,487.38 743.96,490.03 744.48,492.67 744.89,495.32 745.18,497.96 745.33,500.6 745.34,503.25 745.2,505.89 744.93,508.54 744.54,511.18 744.07,513.82 743.52,516.47 742.95,519.11 742.38,521.76 741.85,524.4 741.39,527.05 741.03,529.69 740.78,532.33 740.68,534.98 740.72,537.62 740.9,540.27 741.22,542.91 741.66,545.55 742.2,548.2 742.82,550.84 743.46,553.49 744.12,556.13 744.74,558.77 745.3,561.42 745.77,564.06 746.12,566.71 746.34,569.35 746.42,571.99 746.34,574.64 746.14,577.28 745.8,579.93 745.36,582.57 744.84,585.21 744.28,587.86 743.71,590.5" fill="none" stroke="#1a1a1a" stroke-width="1.06" stroke-linejoin="round" stroke-linecap="round" />
<polyline points="748.41,463.1 748.13,465.75 747.98,468.4 747.97,471.04 748.11,473.69 748.39,476.34 748.8,478.99 749.31,481.64 749.91,484.28 750.55,486.93 751.2,489.58 751.84,492.23 752.42,494.87 752.92,497.52 753.31,500.17 753.57,502.82 753.69,505.46 753.66,508.11 753.49,510.76 753.19,513.41 752.78,516.05 752.28,518.7 751.73,521.35 751.15,524 750.59,526.64 750.07,529.29 749.63,531.94 749.29,534.59 749.08,537.23 749.01,539.88 749.09,542.53 749.31,545.18 749.66,547.82 750.13,550.47 750.69,553.12 751.32,555.77 751.97,558.41 752.62,561.06 753.23,563.71 753.77,566.36 754.21,569 754.53,571.65 754.71,574.3 754.75,576.95 754.64,579.6 754.4,582.24 754.03,584.89 753.57,587.54 753.03,590.19 752.46,592.83 751.89,595.48" fill="none" stroke="#1a1a1a" stroke-width="1.06" stroke-linejoin="round" stroke-linecap="round" />
<polyline points="756.68,467.91 756.43,470.56 756.31,473.21 756.33,475.86 756.5,478.51 756.81,481.16 757.24,483.81 757.78,486.46 758.39,489.11 759.03,491.76 759.69,494.42 760.32,497.07 760.89,499.72 761.36,502.37 761.72,505.02 761.95,507.67 762.04,510.32 761.98,512.97 761.77,515.62 761.44,518.28 761.01,520.93 760.49,523.58 759.93,526.23 759.35,528.88 758.8,531.53 758.29,534.18 757.88,536.83 757.57,539.48 757.39,542.13 757.36,544.79 757.47,547.44 757.73,550.09 758.11,552.74 758.61,555.39 759.19,558.04 759.83,560.69 760.48,563.34 761.13,565.99 761.72,568.65 762.24,571.3 762.65,573.95 762.93,576.6 763.08,579.25 763.07,581.9 762.93,584.55 762.65,587.2 762.25,589.85 761.77,592.51 761.22,595.16 760.64,597.81 760.07,600.46" fill="none" stroke="#1a1a1a" stroke-width="1.06" stroke-linejoin="round" stroke-linecap="round" />
<polyline points="764.96,472.71 764.73,475.36 764.64,478.02 764.7,480.67 764.9,483.33 765.24,485.98 765.69,488.64 766.25,491.29 766.87,493.94 767.52,496.6 768.17,499.25 768.79,501.91 769.34,504.56 769.8,507.22 770.13,509.87 770.33,512.53 770.38,515.18 770.28,517.84 770.05,520.49 769.69,523.14 769.23,525.8 768.7,528.45 768.13,531.11 767.56,533.76 767.01,536.42 766.52,539.07 766.13,541.73 765.85,544.38 765.71,547.04 765.71,549.69 765.86,552.34 766.15,555 766.57,557.65 767.09,560.31 767.69,562.96 768.33,565.62 768.99,568.27 769.63,570.93 770.2,573.58 770.7,576.24 771.08,578.89 771.32,581.54 771.43,584.2 771.39,586.85 771.2,589.51 770.89,592.16 770.47,594.82 769.96,597.47 769.4,600.13 768.82,602.78 768.26,605.44" fill="none" stroke="#1a1a1a" stroke-width="1.06" stroke-linejoin="round" stroke-linecap="round" />
<polyline points="773.24,477.51 773.04,480.17 772.98,482.83 773.07,485.48 773.3,488.14 773.67,490.8 774.15,493.46 774.72,496.12 775.35,498.78 776.01,501.43 776.66,504.09 777.26,506.75 777.8,509.41 778.22,512.07 778.53,514.72 778.69,517.38 778.71,520.04 778.58,522.7 778.32,525.36 777.93,528.01 777.45,530.67 776.91,533.33 776.33,535.99 775.76,538.65 775.23,541.3 774.76,543.96 774.39,546.62 774.15,549.28 774.04,551.94 774.08,554.59 774.26,557.25 774.59,559.91 775.03,562.57 775.57,565.23 776.19,567.88 776.84,570.54 777.5,573.2 778.12,575.86 778.68,578.52 779.15,581.18 779.49,583.83 779.71,586.49 779.77,589.15 779.69,591.81 779.47,594.47 779.13,597.12 778.68,599.78 778.15,602.44 777.58,605.1 777,607.76 776.45,610.41" fill="none" stroke="#1a1a1a" stroke-width="1.06" stroke-linejoin="round" stroke-linecap="round" />
<polygon points="206.7,142.7 306.25,85 887,418.75 782.5,475 782.5,482.9 213.6,155.5 213.6,287 206.7,287" fill="#fff" stroke="none" stroke-width="0.85" stroke-linejoin="round" />
<polyline points="206.7,287 206.7,142.7 306.25,85 887,418.75 782.5,475 206.7,142.7" fill="none" stroke="#000" stroke-width="1.02" stroke-linejoin="round" stroke-linecap="round" />
<line x1="206.7" y1="146.1" x2="782.5" y2="478.4" stroke="#000" stroke-width="0.59" stroke-linecap="round" />
<line x1="213.6" y1="155.5" x2="782.5" y2="482.9" stroke="#000" stroke-width="1.1" stroke-linecap="round" />
<line x1="213.6" y1="155.5" x2="213.6" y2="287" stroke="#000" stroke-width="1.02" stroke-linecap="round" />
<polygon points="782.5,475 887,418.75 887,565 786.9,620 782.5,620" fill="#fff" stroke="#000" stroke-width="1.02" stroke-linejoin="round" />
<line x1="786.9" y1="477.5" x2="786.9" y2="619.5" stroke="#000" stroke-width="0.77" stroke-linecap="round" />
<polyline points="791.1,610.7 791.1,482.5 882,432 882,561 791.1,610.7" fill="none" stroke="#111" stroke-width="0.94" stroke-linejoin="round" stroke-linecap="round" />
<polyline points="792.8,608.2 792.8,485 880.4,436.5 880.4,559.3" fill="none" stroke="#555" stroke-width="0.51" stroke-linejoin="round" stroke-linecap="round" />
<line x1="786.9" y1="477.5" x2="887" y2="422.5" stroke="#000" stroke-width="0.68" stroke-linecap="round" />
<line x1="832.5" y1="460" x2="832.5" y2="587" stroke="#c4c4c4" stroke-width="0.77" stroke-linecap="round" />
<line x1="836" y1="458" x2="836" y2="585" stroke="#c4c4c4" stroke-width="0.77" stroke-linecap="round" />
<line x1="818.5" y1="539.5" x2="830.5" y2="533" stroke="#aaa" stroke-width="2.55" stroke-linecap="round" />
<line x1="818.5" y1="539.5" x2="830.5" y2="533" stroke="#fff" stroke-width="1.36" stroke-linecap="round" />
<line x1="839.5" y1="528" x2="854.5" y2="519.5" stroke="#aaa" stroke-width="2.55" stroke-linecap="round" />
<line x1="839.5" y1="528" x2="854.5" y2="519.5" stroke="#fff" stroke-width="1.36" stroke-linecap="round" />
<polygon points="206.7,287 782.5,617.5 782.5,628.5 206.7,297.5" fill="#fff" stroke="none" stroke-width="0.85" stroke-linejoin="round" />
<line x1="206.7" y1="286.5" x2="782.5" y2="618.79" stroke="#000" stroke-width="0.94" stroke-linecap="round" />
<line x1="206.7" y1="289.5" x2="782.5" y2="621.79" stroke="#000" stroke-width="0.51" stroke-linecap="round" />
<line x1="206.7" y1="297" x2="787" y2="631.89" stroke="#000" stroke-width="1.1" stroke-linecap="round" />
<line x1="782.5" y1="620" x2="787" y2="620" stroke="#000" stroke-width="0.85" stroke-linecap="round" />
<polygon points="209.5,293.12 217.5,297.62 217.5,301.12 209.5,296.62" fill="#fff" stroke="#333" stroke-width="0.59" stroke-linejoin="round" />
<polygon points="492.5,456.44 500.5,460.94 500.5,464.44 492.5,459.94" fill="#fff" stroke="#333" stroke-width="0.59" stroke-linejoin="round" />
<polygon points="395.5,402.96 402.5,407 402.5,441 395.5,441" fill="#fff" stroke="#000" stroke-width="0.77" stroke-linejoin="round" />
<ellipse cx="399" cy="442.5" rx="5" ry="3" fill="#fff" stroke="#000" stroke-width="0.9"/>
<polygon points="806.3,619 862,589.5 862,598 806.3,628" fill="#fff" stroke="#000" stroke-width="0.77" stroke-linejoin="round" />
<line x1="816.4" y1="634" x2="853.5" y2="614.5" stroke="#000" stroke-width="0.68" stroke-linecap="round" />
<polygon points="816.4,628 853.5,608 853.5,614.5 816.4,634" fill="#fff" stroke="none" stroke-width="0.85" stroke-linejoin="round" />
<polygon points="808,627 816.4,623 816.4,643 808,647" fill="#fff" stroke="#000" stroke-width="0.77" stroke-linejoin="round" />
<polygon points="853.5,603 861,599 861,617 853.5,621" fill="#fff" stroke="#000" stroke-width="0.77" stroke-linejoin="round" />
<polygon points="782.6,622 806.3,609.5 806.3,626 782.6,639" fill="#fff" stroke="#000" stroke-width="0.77" stroke-linejoin="round" />
<polygon points="861,587.5 884.7,575 884.7,586.5 861,599" fill="#fff" stroke="#000" stroke-width="0.77" stroke-linejoin="round" />
<polygon points="788.5,630.5 792.5,628.3 792.5,633.5 788.5,635.7" fill="#f3dfb8" stroke="#444" stroke-width="0.42" stroke-linejoin="round" />
<polygon points="794.5,627.2 798.5,625 798.5,630.2 794.5,632.4" fill="#eebcc4" stroke="#444" stroke-width="0.42" stroke-linejoin="round" />
<polygon points="800.4,624 804.4,621.8 804.4,627 800.4,629.2" fill="#fff" stroke="#444" stroke-width="0.42" stroke-linejoin="round" />
<polygon points="866.8,590 870.8,587.8 870.8,593 866.8,595.2" fill="#fff" stroke="#444" stroke-width="0.42" stroke-linejoin="round" />
<polygon points="872.8,586.8 876.8,584.6 876.8,589.8 872.8,592" fill="#eebcc4" stroke="#444" stroke-width="0.42" stroke-linejoin="round" />
<polygon points="878.8,583.5 882.8,581.3 882.8,586.5 878.8,588.7" fill="#f3dfb8" stroke="#444" stroke-width="0.42" stroke-linejoin="round" />
<line x1="790.2" y1="659.6" x2="883" y2="605.6" stroke="#000" stroke-width="6.46" stroke-linecap="round" />
<line x1="790.2" y1="659.6" x2="883" y2="605.6" stroke="#fff" stroke-width="4.76" stroke-linecap="round" />
<line x1="791" y1="657.5" x2="882" y2="604.5" stroke="#ddd" stroke-width="0.68" stroke-linecap="round" />
<polygon points="754.5,649.6 784.2,633.5 784.2,648 754.5,664" fill="#fff" stroke="#000" stroke-width="0.77" stroke-linejoin="round" />
<polygon points="776.7,616.5 786,621.5 786,627.6 776.7,622.6" fill="#fff" stroke="#333" stroke-width="0.59" stroke-linejoin="round" />
<g transform="translate(615.3,562.8) rotate(-14)">
<ellipse cx="0.5" cy="1" rx="20" ry="28" fill="#b3b3b3" stroke="#000" stroke-width="1"/>
<ellipse cx="0" cy="0" rx="20" ry="28" fill="#b3b3b3" stroke="none"/>
<path d="M-20,0 A20,28 0 0 1 6.0,-26.74" fill="none" stroke="#000" stroke-width="1"/>
<path d="M-20,0 A20,28 0 0 0 6.0,26.74" fill="none" stroke="#000" stroke-width="1"/>
<ellipse cx="0" cy="0" rx="12.0" ry="16.24" fill="#fff" stroke="#000" stroke-width="0.8"/>
<ellipse cx="0" cy="0" rx="10.0" ry="13.44" fill="none" stroke="#222" stroke-width="0.6" stroke-dasharray="2 1.5"/>
<ellipse cx="0" cy="0" rx="5.2" ry="7.0" fill="#fff" stroke="#000" stroke-width="0.7"/>
<ellipse cx="0" cy="0" rx="3.0" ry="4.2" fill="#fff" stroke="#000" stroke-width="0.6"/>
<circle cx="7.6" cy="0" r="0.7" fill="#000"/>
<circle cx="5.37" cy="7.33" r="0.7" fill="#000"/>
<circle cx="0" cy="10.36" r="0.7" fill="#000"/>
<circle cx="-5.37" cy="7.33" r="0.7" fill="#000"/>
<circle cx="-7.6" cy="0" r="0.7" fill="#000"/>
<circle cx="-5.37" cy="-7.33" r="0.7" fill="#000"/>
<circle cx="-0" cy="-10.36" r="0.7" fill="#000"/>
<circle cx="5.37" cy="-7.33" r="0.7" fill="#000"/>
</g>
<path d="M588.21,552.8 C588.62,550.63 589.01,543.17 590.65,539.77 C592.28,536.37 594.78,533.76 598.02,532.41 C601.25,531.07 605.81,530.2 610.07,531.7 C614.33,533.21 619.9,537.4 623.57,541.43 C627.23,545.46 629.93,551.28 632.06,555.88 C634.19,560.48 635.39,564.85 636.35,569.02 C637.31,573.19 637.56,578.91 637.8,580.89" fill="none" stroke="#000" stroke-width="4.7" stroke-linecap="butt"/>
<path d="M588.21,552.8 C588.62,550.63 589.01,543.17 590.65,539.77 C592.28,536.37 594.78,533.76 598.02,532.41 C601.25,531.07 605.81,530.2 610.07,531.7 C614.33,533.21 619.9,537.4 623.57,541.43 C627.23,545.46 629.93,551.28 632.06,555.88 C634.19,560.48 635.39,564.85 636.35,569.02 C637.31,573.19 637.56,578.91 637.8,580.89" fill="none" stroke="#fff" stroke-width="3.0" stroke-linecap="butt"/>
<g transform="translate(672.8,596.7) rotate(-14)">
<ellipse cx="0.5" cy="1" rx="20" ry="28" fill="#b3b3b3" stroke="#000" stroke-width="1"/>
<ellipse cx="0" cy="0" rx="20" ry="28" fill="#b3b3b3" stroke="none"/>
<path d="M-20,0 A20,28 0 0 1 6.0,-26.74" fill="none" stroke="#000" stroke-width="1"/>
<path d="M-20,0 A20,28 0 0 0 6.0,26.74" fill="none" stroke="#000" stroke-width="1"/>
<ellipse cx="0" cy="0" rx="12.0" ry="16.24" fill="#fff" stroke="#000" stroke-width="0.8"/>
<ellipse cx="0" cy="0" rx="10.0" ry="13.44" fill="none" stroke="#222" stroke-width="0.6" stroke-dasharray="2 1.5"/>
<ellipse cx="0" cy="0" rx="5.2" ry="7.0" fill="#fff" stroke="#000" stroke-width="0.7"/>
<ellipse cx="0" cy="0" rx="3.0" ry="4.2" fill="#fff" stroke="#000" stroke-width="0.6"/>
<circle cx="7.6" cy="0" r="0.7" fill="#000"/>
<circle cx="5.37" cy="7.33" r="0.7" fill="#000"/>
<circle cx="0" cy="10.36" r="0.7" fill="#000"/>
<circle cx="-5.37" cy="7.33" r="0.7" fill="#000"/>
<circle cx="-7.6" cy="0" r="0.7" fill="#000"/>
<circle cx="-5.37" cy="-7.33" r="0.7" fill="#000"/>
<circle cx="-0" cy="-10.36" r="0.7" fill="#000"/>
<circle cx="5.37" cy="-7.33" r="0.7" fill="#000"/>
</g>
<path d="M645.71,586.7 C646.12,584.53 646.51,577.07 648.15,573.67 C649.78,570.27 652.28,567.66 655.52,566.31 C658.75,564.97 663.31,564.1 667.57,565.6 C671.83,567.11 677.4,571.3 681.07,575.33 C684.73,579.36 687.43,585.18 689.56,589.78 C691.69,594.38 692.89,598.75 693.85,602.92 C694.81,607.09 695.06,612.81 695.3,614.79" fill="none" stroke="#000" stroke-width="4.7" stroke-linecap="butt"/>
<path d="M645.71,586.7 C646.12,584.53 646.51,577.07 648.15,573.67 C649.78,570.27 652.28,567.66 655.52,566.31 C658.75,564.97 663.31,564.1 667.57,565.6 C671.83,567.11 677.4,571.3 681.07,575.33 C684.73,579.36 687.43,585.18 689.56,589.78 C691.69,594.38 692.89,598.75 693.85,602.92 C694.81,607.09 695.06,612.81 695.3,614.79" fill="none" stroke="#fff" stroke-width="3.0" stroke-linecap="butt"/>
<g transform="translate(730.3,629.3) rotate(-14)">
<ellipse cx="0.5" cy="1" rx="20" ry="28" fill="#b3b3b3" stroke="#000" stroke-width="1"/>
<ellipse cx="0" cy="0" rx="20" ry="28" fill="#b3b3b3" stroke="none"/>
<path d="M-20,0 A20,28 0 0 1 6.0,-26.74" fill="none" stroke="#000" stroke-width="1"/>
<path d="M-20,0 A20,28 0 0 0 6.0,26.74" fill="none" stroke="#000" stroke-width="1"/>
<ellipse cx="0" cy="0" rx="12.0" ry="16.24" fill="#fff" stroke="#000" stroke-width="0.8"/>
<ellipse cx="0" cy="0" rx="10.0" ry="13.44" fill="none" stroke="#222" stroke-width="0.6" stroke-dasharray="2 1.5"/>
<ellipse cx="0" cy="0" rx="5.2" ry="7.0" fill="#fff" stroke="#000" stroke-width="0.7"/>
<ellipse cx="0" cy="0" rx="3.0" ry="4.2" fill="#fff" stroke="#000" stroke-width="0.6"/>
<circle cx="7.6" cy="0" r="0.7" fill="#000"/>
<circle cx="5.37" cy="7.33" r="0.7" fill="#000"/>
<circle cx="0" cy="10.36" r="0.7" fill="#000"/>
<circle cx="-5.37" cy="7.33" r="0.7" fill="#000"/>
<circle cx="-7.6" cy="0" r="0.7" fill="#000"/>
<circle cx="-5.37" cy="-7.33" r="0.7" fill="#000"/>
<circle cx="-0" cy="-10.36" r="0.7" fill="#000"/>
<circle cx="5.37" cy="-7.33" r="0.7" fill="#000"/>
</g>
<path d="M703.21,619.3 C703.62,617.13 704.01,609.67 705.65,606.27 C707.28,602.87 709.78,600.26 713.02,598.91 C716.25,597.57 720.81,596.7 725.07,598.2 C729.33,599.71 734.9,603.9 738.57,607.93 C742.23,611.96 744.93,617.78 747.06,622.38 C749.19,626.98 750.39,631.35 751.35,635.52 C752.31,639.69 752.56,645.41 752.8,647.39" fill="none" stroke="#000" stroke-width="4.7" stroke-linecap="butt"/>
<path d="M703.21,619.3 C703.62,617.13 704.01,609.67 705.65,606.27 C707.28,602.87 709.78,600.26 713.02,598.91 C716.25,597.57 720.81,596.7 725.07,598.2 C729.33,599.71 734.9,603.9 738.57,607.93 C742.23,611.96 744.93,617.78 747.06,622.38 C749.19,626.98 750.39,631.35 751.35,635.52 C752.31,639.69 752.56,645.41 752.8,647.39" fill="none" stroke="#fff" stroke-width="3.0" stroke-linecap="butt"/>
<polygon points="175.3,286.5 206,287 206,297.5 199,322 178.8,313.9" fill="#fff" stroke="none" stroke-width="0.85" stroke-linejoin="round" />
<line x1="206.5" y1="285.5" x2="206.5" y2="296.5" stroke="#000" stroke-width="0.85" stroke-linecap="round" />
<line x1="179.8" y1="313.8" x2="196" y2="322.5" stroke="#000" stroke-width="0.85" stroke-linecap="round" />
<path d="M180.2,285.6 L210,302.2 M180.2,288.4 L210,305" fill="none" stroke="#000" stroke-width="0.68" stroke-linejoin="round" stroke-linecap="round" />
<line x1="182" y1="287.6" x2="183.2" y2="288.9" stroke="#333" stroke-width="0.42" stroke-linecap="round" />
<line x1="184" y1="288.72" x2="185.2" y2="290.02" stroke="#333" stroke-width="0.42" stroke-linecap="round" />
<line x1="186" y1="289.83" x2="187.2" y2="291.13" stroke="#333" stroke-width="0.42" stroke-linecap="round" />
<line x1="188" y1="290.94" x2="189.2" y2="292.24" stroke="#333" stroke-width="0.42" stroke-linecap="round" />
<line x1="190" y1="292.06" x2="191.2" y2="293.36" stroke="#333" stroke-width="0.42" stroke-linecap="round" />
<line x1="192" y1="293.17" x2="193.2" y2="294.47" stroke="#333" stroke-width="0.42" stroke-linecap="round" />
<line x1="194" y1="294.29" x2="195.2" y2="295.59" stroke="#333" stroke-width="0.42" stroke-linecap="round" />
<line x1="196" y1="295.4" x2="197.2" y2="296.7" stroke="#333" stroke-width="0.42" stroke-linecap="round" />
<line x1="198" y1="296.51" x2="199.2" y2="297.81" stroke="#333" stroke-width="0.42" stroke-linecap="round" />
<line x1="200" y1="297.63" x2="201.2" y2="298.93" stroke="#333" stroke-width="0.42" stroke-linecap="round" />
<line x1="202" y1="298.74" x2="203.2" y2="300.04" stroke="#333" stroke-width="0.42" stroke-linecap="round" />
<line x1="204" y1="299.86" x2="205.2" y2="301.16" stroke="#333" stroke-width="0.42" stroke-linecap="round" />
<line x1="206" y1="300.97" x2="207.2" y2="302.27" stroke="#333" stroke-width="0.42" stroke-linecap="round" />
<line x1="208" y1="302.08" x2="209.2" y2="303.38" stroke="#333" stroke-width="0.42" stroke-linecap="round" />
<path d="M180.2,294 L207.2,305.4" fill="none" stroke="#000" stroke-width="0.68" stroke-linejoin="round" stroke-linecap="round" />
<path d="M176.4,286.4 L179.8,285 L183,286.6 M176.4,291.9 L179.8,290.5" fill="none" stroke="#000" stroke-width="0.51" stroke-linejoin="round" stroke-linecap="round" />
<line x1="179.5" y1="287" x2="179.5" y2="314" stroke="#000" stroke-width="0.77" stroke-linecap="round" />
<line x1="176.4" y1="287" x2="176.4" y2="314" stroke="#000" stroke-width="0.77" stroke-linecap="round" />
<g transform="translate(222.7,337.3) rotate(-14)">
<ellipse cx="0.5" cy="1" rx="20" ry="28" fill="#b3b3b3" stroke="#000" stroke-width="1"/>
<ellipse cx="0" cy="0" rx="20" ry="28" fill="#b3b3b3" stroke="none"/>
<path d="M-20,0 A20,28 0 0 1 6.0,-26.74" fill="none" stroke="#000" stroke-width="1"/>
<path d="M-20,0 A20,28 0 0 0 6.0,26.74" fill="none" stroke="#000" stroke-width="1"/>
<ellipse cx="0" cy="0" rx="12.0" ry="16.24" fill="#fff" stroke="#000" stroke-width="0.8"/>
<ellipse cx="0" cy="0" rx="10.0" ry="13.44" fill="none" stroke="#222" stroke-width="0.6" stroke-dasharray="2 1.5"/>
<ellipse cx="0" cy="0" rx="5.2" ry="7.0" fill="#fff" stroke="#000" stroke-width="0.7"/>
<ellipse cx="0" cy="0" rx="3.0" ry="4.2" fill="#fff" stroke="#000" stroke-width="0.6"/>
<circle cx="7.6" cy="0" r="0.7" fill="#000"/>
<circle cx="5.37" cy="7.33" r="0.7" fill="#000"/>
<circle cx="0" cy="10.36" r="0.7" fill="#000"/>
<circle cx="-5.37" cy="7.33" r="0.7" fill="#000"/>
<circle cx="-7.6" cy="0" r="0.7" fill="#000"/>
<circle cx="-5.37" cy="-7.33" r="0.7" fill="#000"/>
<circle cx="-0" cy="-10.36" r="0.7" fill="#000"/>
<circle cx="5.37" cy="-7.33" r="0.7" fill="#000"/>
</g>
<path d="M197.8,327.33 C198.17,324.97 198.04,316.64 200.05,313.18 C202.05,309.71 206.54,307.79 209.86,306.55 C213.17,305.31 216.38,304.82 219.96,305.74 C223.53,306.65 227.86,308.39 231.29,312.04 C234.72,315.69 238.29,320.87 240.54,327.63 C242.79,334.39 244.09,348.45 244.8,352.61" fill="none" stroke="#000" stroke-width="4.7" stroke-linecap="butt"/>
<path d="M197.8,327.33 C198.17,324.97 198.04,316.64 200.05,313.18 C202.05,309.71 206.54,307.79 209.86,306.55 C213.17,305.31 216.38,304.82 219.96,305.74 C223.53,306.65 227.86,308.39 231.29,312.04 C234.72,315.69 238.29,320.87 240.54,327.63 C242.79,334.39 244.09,348.45 244.8,352.61" fill="none" stroke="#fff" stroke-width="3.0" stroke-linecap="butt"/>
<g transform="translate(279.3,369.6) rotate(-14)">
<ellipse cx="0.5" cy="1" rx="20" ry="28" fill="#b3b3b3" stroke="#000" stroke-width="1"/>
<ellipse cx="0" cy="0" rx="20" ry="28" fill="#b3b3b3" stroke="none"/>
<path d="M-20,0 A20,28 0 0 1 6.0,-26.74" fill="none" stroke="#000" stroke-width="1"/>
<path d="M-20,0 A20,28 0 0 0 6.0,26.74" fill="none" stroke="#000" stroke-width="1"/>
<ellipse cx="0" cy="0" rx="12.0" ry="16.24" fill="#fff" stroke="#000" stroke-width="0.8"/>
<ellipse cx="0" cy="0" rx="10.0" ry="13.44" fill="none" stroke="#222" stroke-width="0.6" stroke-dasharray="2 1.5"/>
<ellipse cx="0" cy="0" rx="5.2" ry="7.0" fill="#fff" stroke="#000" stroke-width="0.7"/>
<ellipse cx="0" cy="0" rx="3.0" ry="4.2" fill="#fff" stroke="#000" stroke-width="0.6"/>
<circle cx="7.6" cy="0" r="0.7" fill="#000"/>
<circle cx="5.37" cy="7.33" r="0.7" fill="#000"/>
<circle cx="0" cy="10.36" r="0.7" fill="#000"/>
<circle cx="-5.37" cy="7.33" r="0.7" fill="#000"/>
<circle cx="-7.6" cy="0" r="0.7" fill="#000"/>
<circle cx="-5.37" cy="-7.33" r="0.7" fill="#000"/>
<circle cx="-0" cy="-10.36" r="0.7" fill="#000"/>
<circle cx="5.37" cy="-7.33" r="0.7" fill="#000"/>
</g>
<path d="M254.4,359.63 C254.77,357.27 254.64,348.94 256.65,345.48 C258.65,342.01 263.14,340.09 266.46,338.85 C269.77,337.61 272.98,337.12 276.56,338.04 C280.13,338.95 284.46,340.69 287.89,344.34 C291.32,347.99 294.89,353.17 297.14,359.93 C299.39,366.69 300.69,380.75 301.4,384.91" fill="none" stroke="#000" stroke-width="4.7" stroke-linecap="butt"/>
<path d="M254.4,359.63 C254.77,357.27 254.64,348.94 256.65,345.48 C258.65,342.01 263.14,340.09 266.46,338.85 C269.77,337.61 272.98,337.12 276.56,338.04 C280.13,338.95 284.46,340.69 287.89,344.34 C291.32,347.99 294.89,353.17 297.14,359.93 C299.39,366.69 300.69,380.75 301.4,384.91" fill="none" stroke="#fff" stroke-width="3.0" stroke-linecap="butt"/>
<polygon points="302.7,379.4 302.7,401 332.9,384.8 332.9,378.6" fill="#fff" stroke="#000" stroke-width="0.77" stroke-linejoin="round" />
<polygon points="305.4,371.3 320.5,362.8 341,374.6 340,377.5 310.5,390.2 305.4,388.6" fill="#fff" stroke="#000" stroke-width="0.77" stroke-linejoin="round" />
<path d="M305.4,371.3 L309.5,373.8 L326.5,364.5 M309.5,373.8 L309.5,376.5 L327,367 M309.5,376.5 L309.5,387.5 L310.5,390.2 M309.5,386.5 L338,371 M310.5,389 L340,373" fill="none" stroke="#000" stroke-width="0.59" stroke-linejoin="round" stroke-linecap="round" />
<polygon points="56.4,158 64.6,147.9 100.7,127.7 105.7,127.4 139.7,134.4 174.4,113.9 192.3,114.7 262.6,99.7 268.6,105.7 206,143.5 206,287 175.3,286.5 115.4,282.2 112,282 112,250 60.2,248.3 53.9,249.5 43.8,217.9 47.6,197.7 56.4,187" fill="#fff" stroke="none" stroke-width="0.85" stroke-linejoin="round" />
<path d="M56.4,187 L56.4,158 C56.4,154 60,150 64.6,147.9 L100.7,127.7 L105.7,127.4 L139.7,134.4" fill="none" stroke="#000" stroke-width="0.94" stroke-linejoin="round" stroke-linecap="round" />
<path d="M61.5,155.5 L108.9,180.2" fill="none" stroke="#000" stroke-width="0.68" stroke-linejoin="round" stroke-linecap="round" />
<path d="M121.4,169.1 C116,166 113,160 113.8,155.2 C114,151 115.5,149 118,147.3 L174.4,113.9 L192.3,114.7 C215,107 240,101 262.6,99.7 C266,99.6 268.6,102 268.6,105.7" fill="none" stroke="#000" stroke-width="0.94" stroke-linejoin="round" stroke-linecap="round" />
<path d="M121.4,157.7 L192.3,115.4" fill="none" stroke="#000" stroke-width="0.68" stroke-linejoin="round" stroke-linecap="round" />
<path d="M119.5,160.5 L134,152 M120.5,162.5 L135,154" fill="none" stroke="#444" stroke-width="0.51" stroke-linejoin="round" stroke-linecap="round" />
<path d="M121.4,157.7 C123,161 123,165 121.4,169.1" fill="none" stroke="#000" stroke-width="0.77" stroke-linejoin="round" stroke-linecap="round" />
<path d="M180.4,154.3 C182,147 185,142.5 189.4,140.9 L261.1,103.5 C264,102 266.5,102.5 268,104.5" fill="none" stroke="#000" stroke-width="0.77" stroke-linejoin="round" stroke-linecap="round" />
<path d="M140,154.3 C155,148 166,144 180.4,142.3" fill="none" stroke="#000" stroke-width="0.59" stroke-linejoin="round" stroke-linecap="round" />
<path d="M180.8,142.6 C177.5,150 176.4,160 176.4,182 L176.4,287" fill="none" stroke="#000" stroke-width="0.77" stroke-linejoin="round" stroke-linecap="round" />
<path d="M188.4,142.6 C182,150 179.5,160 179.5,182 L179.5,287" fill="none" stroke="#000" stroke-width="0.77" stroke-linejoin="round" stroke-linecap="round" />
<path d="M187.9,160 L205.8,149.8" fill="none" stroke="#000" stroke-width="0.59" stroke-linejoin="round" stroke-linecap="round" />
<path d="M180.5,250.5 L205.3,236.8" fill="none" stroke="#000" stroke-width="0.68" stroke-linejoin="round" stroke-linecap="round" />
<path d="M121.4,169.1 L130.3,165 L158.1,177.6 C160,179 160.7,181 160.7,184 L160.7,269.4 L175.3,286.5" fill="none" stroke="#000" stroke-width="0.85" stroke-linejoin="round" stroke-linecap="round" />
<path d="M126.4,162.8 L151.7,178" fill="none" stroke="#000" stroke-width="0.51" stroke-linejoin="round" stroke-linecap="round" />
<path d="M122.8,170 L114,179.5 C111,184 110.1,192 110.1,213 L113.9,215 L127.8,213.7 C130,212 130,210 127.8,209.5" fill="none" stroke="#9a9a9a" stroke-width="2.21" stroke-linejoin="round" stroke-linecap="round" />
<path d="M122.8,170 L114,179.5 C111,184 110.1,192 110.1,213 L113.9,215 L127.8,213.7" fill="none" stroke="#fff" stroke-width="0.85" stroke-linejoin="round" stroke-linecap="round" />
<line x1="112.8" y1="183" x2="112.8" y2="212.5" stroke="#b0b0b0" stroke-width="0.59" stroke-linecap="round" />
<line x1="115.2" y1="180.5" x2="115.2" y2="212.5" stroke="#b0b0b0" stroke-width="0.59" stroke-linecap="round" />
<line x1="117.6" y1="178" x2="117.6" y2="212.5" stroke="#b0b0b0" stroke-width="0.59" stroke-linecap="round" />
<line x1="120" y1="175.5" x2="120" y2="212.5" stroke="#b0b0b0" stroke-width="0.59" stroke-linecap="round" />
<path d="M122.8,170.5 L126,173 L121,205 L127.5,209.5" fill="none" stroke="#b0b0b0" stroke-width="0.68" stroke-linejoin="round" stroke-linecap="round" />
<polygon points="122.8,175.7 127.8,174.5 145.5,184.6 146.8,189 146.1,211.1 141.7,210.5 136.7,206.7 132.9,209.2 122.8,204.2" fill="#e4e8ec" stroke="#111" stroke-width="0.94" stroke-linejoin="round" />
<path d="M114.5,214.3 L114.5,225.7 L146.8,247.2 L146.8,189 C146.8,186 146,184.5 143,183" fill="none" stroke="#000" stroke-width="0.77" stroke-linejoin="round" stroke-linecap="round" />
<polygon points="139.5,231.5 142.3,233 142.3,240 139.5,238.5" fill="#444" stroke="#000" stroke-width="0.34" stroke-linejoin="round" />
<path d="M56.4,187 L97.5,210.7 C99,212 100,214 100.5,216.6 L109.3,234.3 C110,235.5 110.5,236 111.3,236.3 L158,263.4" fill="none" stroke="#000" stroke-width="0.85" stroke-linejoin="round" stroke-linecap="round" />
<path d="M60.2,191.4 L59,206.5 L70,211.2 L83.8,216.6 C88,218 92,220 94.6,223.5 L102.4,234.3 L106.4,242.2" fill="none" stroke="#000" stroke-width="0.59" stroke-linejoin="round" stroke-linecap="round" />
<path d="M56.4,187 C50,190 46,200 45.1,209.1 C43,220 43.5,232 48.8,240.7 L53.9,249.5 L60.2,248.3" fill="none" stroke="#000" stroke-width="0.94" stroke-linejoin="round" stroke-linecap="round" />
<path d="M52,190 L58.5,191.5 L56.5,200 L47.6,207" fill="none" stroke="#000" stroke-width="0.68" stroke-linejoin="round" stroke-linecap="round" />
<path d="M45,219.2 C50,224 53,226 56.4,228 C58,225 63,222 69,221.7 C74,221.5 79,223 83,227.5" fill="none" stroke="#000" stroke-width="0.85" stroke-linejoin="round" stroke-linecap="round" />
<path d="M55.2,231.8 L55.2,248.3" fill="none" stroke="#000" stroke-width="0.68" stroke-linejoin="round" stroke-linecap="round" />
<g transform="translate(83,259) rotate(-14)">
<ellipse cx="3" cy="1" rx="22.5" ry="31" fill="#b3b3b3" stroke="#000" stroke-width="1"/>
<ellipse cx="0" cy="0" rx="22.5" ry="31" fill="#b3b3b3" stroke="none"/>
<path d="M-22.5,0 A22.5,31 0 0 1 6.75,-29.605" fill="none" stroke="#000" stroke-width="1"/>
<path d="M-22.5,0 A22.5,31 0 0 0 6.75,29.605" fill="none" stroke="#000" stroke-width="1"/>
<ellipse cx="0" cy="0" rx="13.5" ry="17.98" fill="#fff" stroke="#000" stroke-width="0.8"/>
<ellipse cx="0" cy="0" rx="11.25" ry="14.879999999999999" fill="none" stroke="#222" stroke-width="0.6" stroke-dasharray="2 1.5"/>
<ellipse cx="0" cy="0" rx="5.8500000000000005" ry="7.75" fill="#fff" stroke="#000" stroke-width="0.7"/>
<ellipse cx="0" cy="0" rx="3.375" ry="4.6499999999999995" fill="#fff" stroke="#000" stroke-width="0.6"/>
<circle cx="8.55" cy="0" r="0.7" fill="#000"/>
<circle cx="6.05" cy="8.11" r="0.7" fill="#000"/>
<circle cx="0" cy="11.47" r="0.7" fill="#000"/>
<circle cx="-6.05" cy="8.11" r="0.7" fill="#000"/>
<circle cx="-8.55" cy="0" r="0.7" fill="#000"/>
<circle cx="-6.05" cy="-8.11" r="0.7" fill="#000"/>
<circle cx="-0" cy="-11.47" r="0.7" fill="#000"/>
<circle cx="6.05" cy="-8.11" r="0.7" fill="#000"/>
</g>
<path d="M103.4,246.1 L114.2,240.7 M112.3,251 L119.2,246.1 M105.1,249.2 L107.9,250.8" fill="none" stroke="#000" stroke-width="0.68" stroke-linejoin="round" stroke-linecap="round" />
<polygon points="115.4,257 175.5,290.6 175.5,314.6 115.4,283" fill="#fff" stroke="#000" stroke-width="0.94" stroke-linejoin="round" />
<line x1="117.5" y1="260.2" x2="175.5" y2="293.1" stroke="#000" stroke-width="0.51" stroke-linecap="round" />
<polygon points="111.9,254.5 115.4,257 115.4,283 111.9,282" fill="#fff" stroke="#000" stroke-width="0.85" stroke-linejoin="round" />
<path d="M116.2,258 L129,250.6" fill="none" stroke="#000" stroke-width="0.68" stroke-linejoin="round" stroke-linecap="round" />
<polygon points="92.6,189.5 94.9,190.7 94.9,197.5 92.6,196.3" fill="#fff" stroke="#000" stroke-width="0.59" stroke-linejoin="round" />
<polygon points="96.3,191.6 98.6,192.8 98.6,199.6 96.3,198.4" fill="#fff" stroke="#000" stroke-width="0.59" stroke-linejoin="round" />
<polygon points="100,193.7 102.3,194.9 102.3,201.7 100,200.5" fill="#fff" stroke="#000" stroke-width="0.59" stroke-linejoin="round" />
<circle cx="344" cy="285.9" r="172" fill="none" stroke="#000" stroke-width="2.35" stroke-dasharray="13.550 7.233" stroke-dashoffset="0.48"/>
<rect x="337.5" y="133" width="148.5" height="45" fill="#fff" stroke="#000" stroke-width="1.3"/>
<text x="0" y="0" transform="translate(412.2,163.4) scale(0.94,1)" font-family="Liberation Sans, sans-serif" font-size="31" text-anchor="middle" fill="#000">Group 1</text>
<rect x="346.8" y="283.9" width="41.5" height="41" fill="#fff" stroke="#000" stroke-width="1.3"/>
<text x="367.4" y="314.1" font-family="Liberation Sans, sans-serif" font-size="27.5" text-anchor="middle" fill="#000">A</text>
<rect x="412" y="249.3" width="41.3" height="40.6" fill="#fff" stroke="#000" stroke-width="1.3"/>
<text x="432.4" y="279.3" font-family="Liberation Sans, sans-serif" font-size="27.5" text-anchor="middle" fill="#000">B</text>
<circle cx="35" cy="35" r="23" fill="#1f4d6b"/>
<text x="35.2" y="42" font-family="Liberation Sans, sans-serif" font-size="22.5" text-anchor="middle" fill="#fff">8</text>
</svg></body></html>
